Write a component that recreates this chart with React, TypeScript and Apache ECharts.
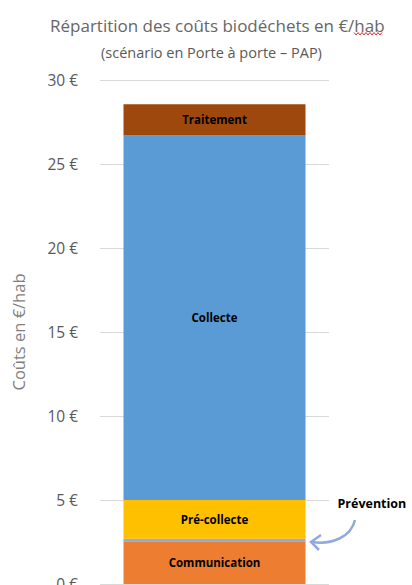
import React, { useEffect, useRef } from "react";
import * as echarts from "echarts";

const categories = ["PAP"];
const segmentNames = ["Communication", "Prévention", "Pré-collecte", "Collecte", "Traitement"];
const segmentValues = [2.55, 0.15, 2.3, 21.7, 1.85];
const segmentColors = ["#ED7D31", "#8FAADC", "#FFC000", "#5B9BD5", "#9E480E"];
const yMin = 0;
const yMax = 30;
const yInterval = 5;

export default function App() {
  const ref = useRef<HTMLDivElement>(null);
  useEffect(() => {
    document.body.style.margin = "0";
    document.body.style.overflow = "hidden";
    if (!ref.current) return;
    const chart = echarts.init(ref.current, null, { renderer: "svg" });
    const font = "'Open Sans', sans-serif";
    const series = segmentNames.map((name, i) => ({
      name,
      type: "bar",
      stack: "total",
      barWidth: 182,
      data: [segmentValues[i]],
      itemStyle: { color: segmentColors[i] },
      label:
        name === "Prévention"
          ? {
              show: true,
              position: "right",
              offset: [27, -36],
              formatter: "{a}",
              color: "#000",
              fontWeight: "bold",
              fontSize: 12.5,
              fontFamily: font,
            }
          : {
              show: true,
              position: "inside",
              formatter: "{a}",
              color: "#000",
              fontWeight: "bold",
              fontSize: 11.5,
              fontFamily: font,
            },
    }));
    const wave: number[][] = [];
    for (let i = 0; i <= 14; i++) wave.push([354 + i * 2, i % 2 === 0 ? 32.5 : 35]);
    chart.setOption({
      animation: false,
      title: [
        {
          text: "Répartition des coûts biodéchets en €/hab",
          left: 45,
          top: 12,
          textStyle: { color: "#666666", fontSize: 17, fontWeight: "normal", fontFamily: font },
        },
        {
          text: "(scénario en Porte à porte – PAP)",
          left: 96,
          top: 40,
          textStyle: { color: "#595959", fontSize: 14.5, fontWeight: "normal", fontFamily: font },
        },
      ],
      grid: { left: 100, right: 83, top: 80, bottom: 1, outerBoundsMode: "none", containLabel: false },
      xAxis: {
        type: "category",
        data: categories,
        show: false,
      },
      yAxis: {
        type: "value",
        min: yMin,
        max: yMax,
        interval: yInterval,
        name: "Coûts en €/hab",
        nameLocation: "middle",
        nameGap: 73,
        nameTextStyle: { color: "#7f7f7f", fontSize: 16.5, fontFamily: font },
        axisLine: { show: false },
        axisTick: { show: false },
        axisLabel: {
          formatter: (v: number) => v + " €",
          color: "#595959",
          fontSize: 15.5,
          fontFamily: font,
          margin: 22,
        },
        splitLine: { lineStyle: { color: "#D9D9D9", width: 1 } },
      },
      series,
      graphic: [
        {
          type: "bezierCurve",
          shape: { x1: 355, y1: 520, cpx1: 351, cpy1: 537, cpx2: 332, cpy2: 545, x2: 312, y2: 542 },
          style: { stroke: "#8FAADC", lineWidth: 2.5, fill: "none" },
        },
        {
          type: "polyline",
          shape: { points: [[321, 535], [311, 542], [319, 550]] },
          style: { stroke: "#8FAADC", lineWidth: 2.5, fill: "none" },
        },
        {
          type: "polyline",
          shape: { points: wave },
          style: { stroke: "#E03030", lineWidth: 1, fill: "none" },
        },
      ],
    });
    return () => chart.dispose();
  }, []);
  return <div ref={ref} style={{ width: 412, height: 585 }} />;
}
